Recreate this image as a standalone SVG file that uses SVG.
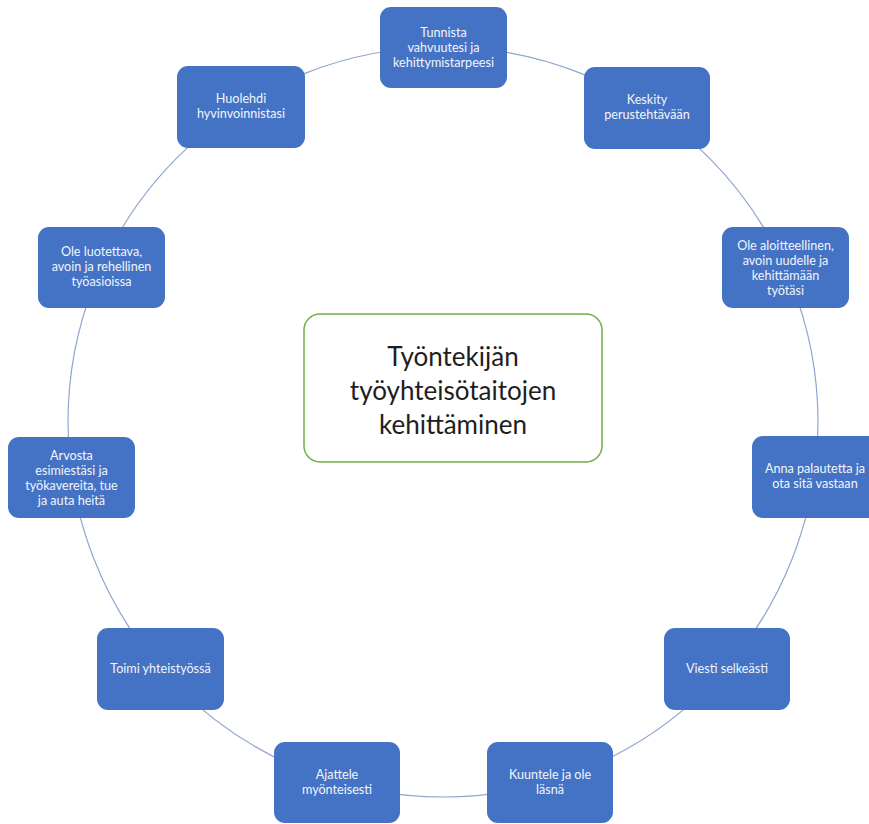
<svg xmlns="http://www.w3.org/2000/svg" width="869" height="824" viewBox="0 0 869 824">
<style>
.node rect{fill:#4472C4;}
.node text{fill:#F2F5FB;font-family:Lato,"Liberation Sans",sans-serif;font-size:12.6px;text-anchor:middle;}
.ring{fill:none;stroke:#8FA6CF;stroke-width:1.2;}
.center rect{fill:#FFFFFF;stroke:#70AD47;stroke-width:1.5;}
.center text{fill:#1E1E1E;font-family:Lato,"Liberation Sans",sans-serif;font-size:26px;text-anchor:middle;}
</style>
<rect width="869" height="824" fill="#FFFFFF"/>
<g id="connectors">
<circle class="ring" cx="443" cy="422" r="375"/>
</g>
<g id="center" class="center">
<rect x="304" y="314" width="298" height="148" rx="16"/>
<text><tspan x="453" y="366">Työntekijän</tspan><tspan x="453" y="400">työyhteisötaitojen</tspan><tspan x="453" y="434">kehittäminen</tspan></text>
</g>
<g id="n1" class="node">
<rect x="380" y="7" width="127" height="81" rx="11"/>
<text><tspan x="443.5" y="37">Tunnista</tspan><tspan x="443.5" y="52">vahvuutesi ja</tspan><tspan x="443.5" y="67">kehittymistarpeesi</tspan></text>
</g>
<g id="n2" class="node">
<rect x="584" y="67" width="126" height="82" rx="11"/>
<text><tspan x="647" y="104">Keskity</tspan><tspan x="647" y="119">perustehtävään</tspan></text>
</g>
<g id="n3" class="node">
<rect x="722" y="227" width="127" height="81" rx="11"/>
<text><tspan x="785.5" y="249.5">Ole aloitteellinen,</tspan><tspan x="785.5" y="264.5">avoin uudelle ja</tspan><tspan x="785.5" y="279.5">kehittämään</tspan><tspan x="785.5" y="294.5">työtäsi</tspan></text>
</g>
<g id="n4" class="node">
<rect x="752" y="436" width="127" height="82" rx="11"/>
<text><tspan x="815" y="473">Anna palautetta ja</tspan><tspan x="815" y="488">ota sitä vastaan</tspan></text>
</g>
<g id="n5" class="node">
<rect x="664" y="628" width="126" height="82" rx="11"/>
<text><tspan x="727" y="673">Viesti selkeästi</tspan></text>
</g>
<g id="n6" class="node">
<rect x="487" y="742" width="126" height="81" rx="11"/>
<text><tspan x="550" y="779">Kuuntele ja ole</tspan><tspan x="550" y="794">läsnä</tspan></text>
</g>
<g id="n7" class="node">
<rect x="274" y="742" width="126" height="81" rx="11"/>
<text><tspan x="337" y="779">Ajattele</tspan><tspan x="337" y="794">myönteisesti</tspan></text>
</g>
<g id="n8" class="node">
<rect x="97" y="628" width="127" height="82" rx="11"/>
<text><tspan x="160.5" y="673">Toimi yhteistyössä</tspan></text>
</g>
<g id="n9" class="node">
<rect x="8" y="437" width="127" height="81" rx="11"/>
<text><tspan x="71.5" y="459.5">Arvosta</tspan><tspan x="71.5" y="474.5">esimiestäsi ja</tspan><tspan x="71.5" y="489.5">työkavereita, tue</tspan><tspan x="71.5" y="504.5">ja auta heitä</tspan></text>
</g>
<g id="n10" class="node">
<rect x="38" y="227" width="127" height="81" rx="11"/>
<text><tspan x="101.5" y="256">Ole luotettava,</tspan><tspan x="101.5" y="271">avoin ja rehellinen</tspan><tspan x="101.5" y="286">työasioissa</tspan></text>
</g>
<g id="n11" class="node">
<rect x="177" y="66" width="128" height="82" rx="11"/>
<text><tspan x="241" y="103">Huolehdi</tspan><tspan x="241" y="118">hyvinvoinnistasi</tspan></text>
</g>
</svg>
